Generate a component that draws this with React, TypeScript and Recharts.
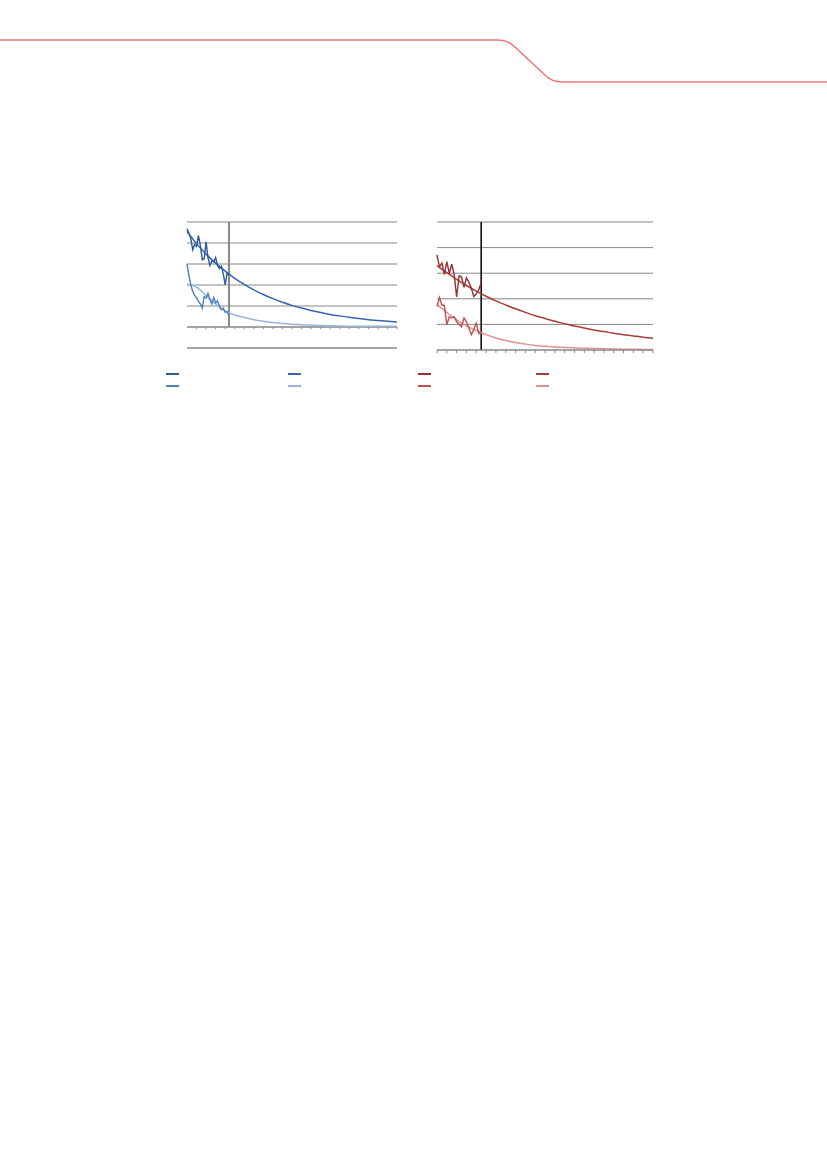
import React from 'react';
import { CartesianGrid, Line, LineChart, ReferenceLine, XAxis, YAxis } from 'recharts';

// time axis (years) shared by both panels
const yearTicks = [0, 1, 2, 3, 4, 5, 6, 7, 8, 9, 10, 11, 12, 13, 14, 15, 16, 17, 18, 19, 20, 21, 22];

// left panel (blue)
const leftYTicks = [-1, 0, 1, 2, 3, 4, 5];
const leftObsTime = [0, 0.2, 0.4, 0.6, 0.8, 1, 1.2, 1.4, 1.6, 1.8, 2, 2.2, 2.4, 2.6, 2.8, 3, 3.2, 3.4, 3.6, 3.8, 4, 4.2, 4.4];
const leftObsDark = [4.68, 4.47, 4.2, 3.68, 3.93, 3.84, 4.35, 3.89, 3.2, 3.25, 4.05, 3.3, 2.93, 3.14, 3.1, 3.3, 2.93, 2.78, 2.89, 2.54, 2.0, 2.57, 2.46];
const leftObsLight = [3.0, 2.45, 2.0, 1.7, 1.5, 1.4, 1.22, 1.1, 0.9, 1.45, 1.38, 1.6, 1.3, 1.1, 1.4, 1.15, 1.25, 0.98, 0.82, 0.9, 0.7, 0.74, 0.53];
const leftFitDark = [4.55, 3.97, 3.47, 3.04, 2.66, 2.32, 2.03, 1.77, 1.55, 1.35, 1.18, 1.03, 0.9, 0.79, 0.69, 0.6, 0.53, 0.46, 0.4, 0.35, 0.31, 0.27, 0.24];
const leftFitLight = [2.05, 1.9, 1.5, 1.1, 0.76, 0.57, 0.45, 0.35, 0.27, 0.21, 0.17, 0.13, 0.11, 0.09, 0.07, 0.06, 0.05, 0.04, 0.04, 0.03, 0.03, 0.03, 0.03];
const leftCut = 4.4;

// right panel (red)
const rightYTicks = [0, 1, 2, 3, 4, 5];
const rightObsTime = [0, 0.25, 0.5, 0.75, 1, 1.25, 1.5, 1.75, 2, 2.25, 2.5, 2.75, 3, 3.25, 3.5, 3.75, 4, 4.25, 4.5];
const rightObsDark = [3.72, 3.25, 3.4, 2.95, 3.45, 3.0, 3.35, 2.95, 2.07, 2.9, 2.85, 2.45, 2.82, 2.65, 2.4, 2.09, 2.2, 2.35, 2.62];
const rightObsLight = [1.7, 2.05, 1.75, 1.75, 0.98, 1.3, 1.25, 1.3, 1.1, 1.0, 0.9, 1.25, 1.1, 0.85, 0.6, 0.8, 1.05, 0.65, 0.7];
const rightFitDark = [3.3, 3.02, 2.76, 2.52, 2.3, 2.1, 1.92, 1.76, 1.61, 1.47, 1.34, 1.23, 1.12, 1.03, 0.94, 0.86, 0.78, 0.72, 0.65, 0.6, 0.55, 0.5, 0.46];
const rightFitLight = [1.77, 1.47, 1.18, 0.94, 0.76, 0.6, 0.47, 0.37, 0.29, 0.23, 0.18, 0.15, 0.12, 0.1, 0.08, 0.07, 0.06, 0.05, 0.04, 0.03, 0.03, 0.02, 0.02];
const rightCut = 4.5;

const zip = (xs: number[], ys: number[]) => xs.map((t, i) => ({ t, v: ys[i] }));

const GRID = '#878787';
const blue = { obsDark: '#2d5a9a', fitDark: '#3765aa', obsLight: '#4d7ec2', fitLight: '#98b5dc' };
const red = { obsDark: '#983130', fitDark: '#a83c3a', obsLight: '#c4514e', fitLight: '#dc9290' };

const Swatches = ({ colors, left, top, gap }: { colors: string[]; left: number; top: number; gap: number }) => (
  <>
    {colors.map((c, i) => (
      <div
        key={i}
        style={{
          position: 'absolute',
          left: left + (i % 2) * gap,
          top: top + Math.floor(i / 2) * 12,
          width: 13,
          height: 2,
          background: c,
        }}
      />
    ))}
  </>
);

const LeftPanel = () => (
  <div style={{ position: 'absolute', left: 150, top: 210 }}>
    <LineChart width={260} height={190} margin={{ top: 12, right: 13, bottom: 22, left: 37 }}>
      <CartesianGrid vertical={false} stroke={GRID} strokeWidth={1} />
      <XAxis type="number" dataKey="t" domain={[0, 22]} ticks={yearTicks} tick={false} tickLine={false} axisLine={{ stroke: GRID }} height={30} />
      <YAxis domain={[-1, 5]} ticks={leftYTicks} width={0} tickSize={3} tickFormatter={() => ''} axisLine={{ stroke: GRID }} tickLine={{ stroke: GRID }} />
      <ReferenceLine y={0} stroke={GRID} strokeWidth={1} />
      {yearTicks.slice(1).map((x) => (
        <ReferenceLine key={x} segment={[{ x, y: 0 }, { x, y: -0.1 }]} stroke={GRID} />
      ))}
      <ReferenceLine segment={[{ x: leftCut, y: 5 }, { x: leftCut, y: 0 }]} stroke="#8a8a8a" strokeWidth={2} />
      <Line data={zip(yearTicks, leftFitLight)} dataKey="v" type="monotone" stroke={blue.fitLight} strokeWidth={1.5} dot={false} isAnimationActive={false} />
      <Line data={zip(leftObsTime, leftObsLight)} dataKey="v" type="linear" stroke={blue.obsLight} strokeWidth={1.4} dot={false} isAnimationActive={false} />
      <Line data={zip(yearTicks, leftFitDark)} dataKey="v" type="monotone" stroke={blue.fitDark} strokeWidth={1.5} dot={false} isAnimationActive={false} />
      <Line data={zip(leftObsTime, leftObsDark)} dataKey="v" type="linear" stroke={blue.obsDark} strokeWidth={1.4} dot={false} isAnimationActive={false} />
    </LineChart>
    <Swatches colors={[blue.obsDark, blue.fitDark, blue.obsLight, blue.fitLight]} left={16} top={163} gap={122} />
  </div>
);

const RightPanel = () => (
  <div style={{ position: 'absolute', left: 410, top: 210 }}>
    <LineChart width={260} height={190} margin={{ top: 12, right: 17, bottom: 20, left: 27 }}>
      <CartesianGrid vertical={false} stroke={GRID} strokeWidth={1} />
      <XAxis type="number" dataKey="t" domain={[0, 22]} ticks={yearTicks} tickSize={3} tickFormatter={() => ''} axisLine={{ stroke: GRID }} tickLine={{ stroke: GRID }} height={30} />
      <YAxis domain={[0, 5]} ticks={rightYTicks} width={0} tickSize={3} tickFormatter={() => ''} axisLine={{ stroke: GRID }} tickLine={{ stroke: GRID }} />
      <ReferenceLine x={rightCut} stroke="#000000" strokeWidth={1.5} />
      <Line data={zip(yearTicks, rightFitLight)} dataKey="v" type="monotone" stroke={red.fitLight} strokeWidth={1.5} dot={false} isAnimationActive={false} />
      <Line data={zip(rightObsTime, rightObsLight)} dataKey="v" type="linear" stroke={red.obsLight} strokeWidth={1.4} dot={false} isAnimationActive={false} />
      <Line data={zip(yearTicks, rightFitDark)} dataKey="v" type="monotone" stroke={red.fitDark} strokeWidth={1.5} dot={false} isAnimationActive={false} />
      <Line data={zip(rightObsTime, rightObsDark)} dataKey="v" type="linear" stroke={red.obsDark} strokeWidth={1.4} dot={false} isAnimationActive={false} />
    </LineChart>
    <Swatches colors={[red.obsDark, red.fitDark, red.obsLight, red.fitLight]} left={8} top={163} gap={118} />
  </div>
);

export default function App() {
  return (
    <div style={{ position: 'absolute', left: 0, top: 0, width: 827, height: 1170, background: '#fff', overflow: 'hidden' }}>
      <svg width={827} height={100} style={{ position: 'absolute', left: 0, top: 0 }}>
        <path d="M0 40 H497 Q508 40 515 47 L545 75 Q552 82 562 82 H827" fill="none" stroke="#f07676" strokeWidth={1.5} />
      </svg>
      <LeftPanel />
      <RightPanel />
    </div>
  );
}
